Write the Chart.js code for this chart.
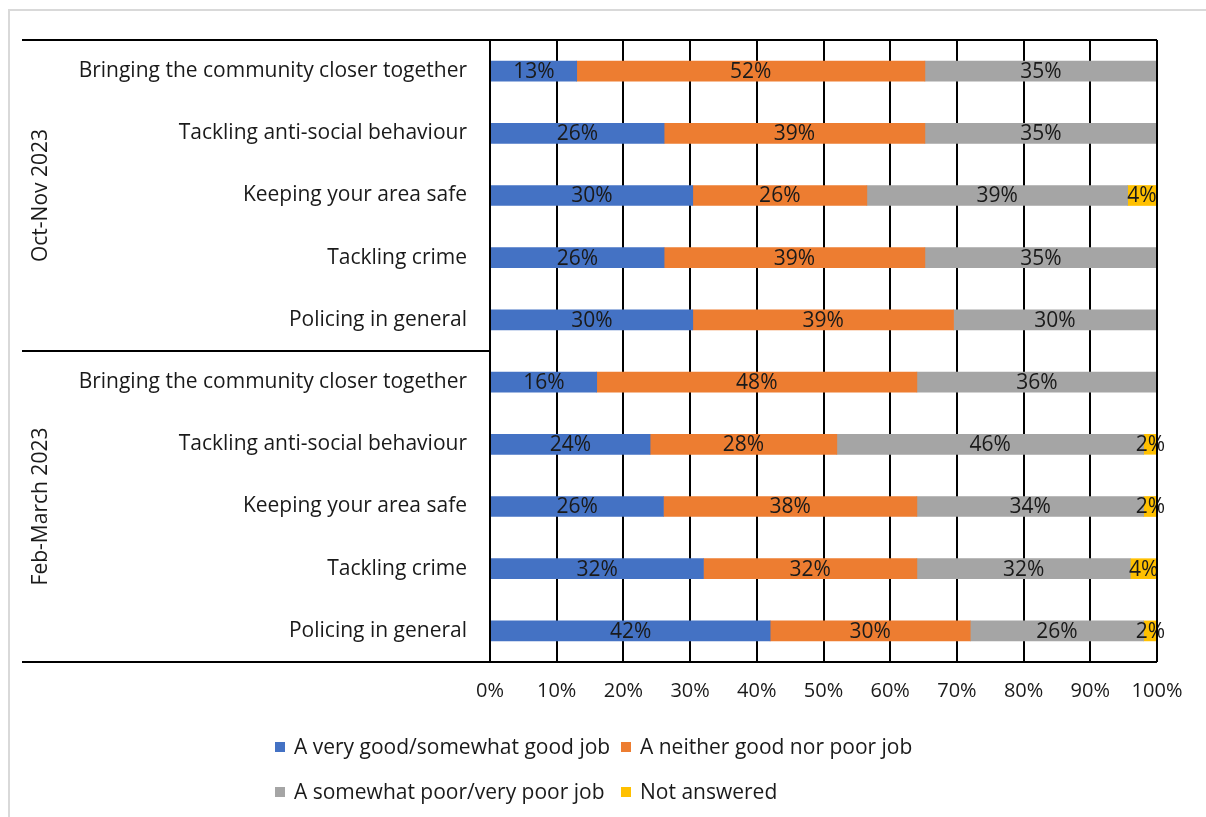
<!DOCTYPE html>
<html>
<head>
<meta charset="utf-8">
<script src="https://cdn.jsdelivr.net/npm/chart.js@4/dist/chart.umd.min.js"></script>
<style>
  html, body { margin: 0; padding: 0; background: #fff; }
  #wrap { width: 1206px; height: 817px; position: relative; }
</style>
</head>
<body>
<div id="wrap"><canvas id="chart"></canvas></div>
<script>
/* DATA */

const groups = ["Oct-Nov 2023", "Feb-March 2023"];
const categories = [
  "Bringing the community closer together",
  "Tackling anti-social behaviour",
  "Keeping your area safe",
  "Tackling crime",
  "Policing in general",
  "Bringing the community closer together",
  "Tackling anti-social behaviour",
  "Keeping your area safe",
  "Tackling crime",
  "Policing in general"
];
const seriesNames = [
  "A very good/somewhat good job",
  "A neither good nor poor job",
  "A somewhat poor/very poor job",
  "Not answered"
];
const goodJob    = [13.0, 26.1, 30.4, 26.1, 30.4, 16, 24, 26, 32, 42];
const neitherJob = [52.2, 39.1, 26.1, 39.1, 39.1, 48, 28, 38, 32, 30];
const poorJob    = [34.8, 34.8, 39.1, 34.8, 30.4, 36, 46, 34, 32, 26];
const notAnswered = [0, 0, 4.3, 0, 0, 0, 2, 2, 4, 2];
const xTicks = [0, 10, 20, 30, 40, 50, 60, 70, 80, 90, 100];

const colors = ["#4472C4", "#ED7D31", "#A5A5A5", "#FFC000"];
const FONT = "'Open Sans', sans-serif";
const TEXT = "#1a1a1a";

/* PLUGINS */

// white page + light frame
const framePlugin = {
  id: "frame",
  beforeDraw(chart) {
    const c = chart.ctx;
    c.save();
    c.fillStyle = "#fff";
    c.fillRect(0, 0, chart.width, chart.height);
    c.strokeStyle = "#d9d9d9";
    c.lineWidth = 2;
    c.beginPath();
    c.moveTo(9, chart.height);
    c.lineTo(9, 10);
    c.lineTo(chart.width, 10);
    c.stroke();
    c.restore();
  }
};

// values in the middle of each segment
const valueLabels = {
  id: "valueLabels",
  afterDatasetsDraw(chart) {
    const c = chart.ctx;
    c.save();
    c.font = `21px ${FONT}`;
    c.fillStyle = TEXT;
    c.textAlign = "center";
    c.textBaseline = "middle";
    chart.data.datasets.forEach((ds, i) => {
      chart.getDatasetMeta(i).data.forEach((bar, j) => {
        const v = ds.data[j];
        if (!v) return;
        c.fillText(Math.round(v) + "%", (bar.x + bar.base) / 2, bar.y + 1);
      });
    });
    c.restore();
  }
};

// multi-level category box, group titles and legend
const groupAxis = {
  id: "groupAxis",
  afterDraw(chart) {
    const c = chart.ctx;
    const area = chart.chartArea;
    const y = chart.scales.y;
    const left = 22;
    const mid = y.getPixelForValue(4.5);

    c.save();
    c.strokeStyle = "#000";
    c.lineWidth = 2;
    c.beginPath();
    c.moveTo(left, area.top); c.lineTo(area.right, area.top);
    c.moveTo(left, mid); c.lineTo(area.left, mid);
    c.moveTo(left, area.bottom); c.lineTo(area.right, area.bottom);
    c.moveTo(area.left, area.top); c.lineTo(area.left, area.bottom);
    c.moveTo(area.right, area.top); c.lineTo(area.right, area.bottom);
    c.stroke();

    c.font = `21px ${FONT}`;
    c.fillStyle = TEXT;
    c.textAlign = "center";
    c.textBaseline = "middle";
    const centers = [(area.top + mid) / 2, (mid + area.bottom) / 2];
    groups.forEach((g, i) => {
      c.save();
      c.translate(41, centers[i]);
      c.rotate(-Math.PI / 2);
      c.fillText(g, 0, 0);
      c.restore();
    });

    // legend in two columns
    const cols = [275, 621];
    const rows = [747, 792];
    c.textAlign = "left";
    chart.data.datasets.forEach((ds, i) => {
      const x = cols[i % 2];
      const yy = rows[Math.floor(i / 2)];
      c.fillStyle = ds.backgroundColor;
      c.fillRect(x, yy - 5, 10, 10);
      c.fillStyle = TEXT;
      c.fillText(ds.label, x + 19, yy + 1);
    });
    c.restore();
  }
};

/* CHART */

const datasets = [goodJob, neitherJob, poorJob, notAnswered].map((d, i) => ({
  label: seriesNames[i],
  data: d,
  backgroundColor: colors[i],
  borderWidth: 0,
  barThickness: 20
}));

new Chart(document.getElementById("chart"), {
  type: "bar",
  data: { labels: categories, datasets },
  plugins: [framePlugin, valueLabels, groupAxis],
  options: {
    indexAxis: "y",
    responsive: true,
    maintainAspectRatio: false,
    animation: false,
    layout: { padding: { left: 22, top: 40, right: 49, bottom: 105 } },
    plugins: { legend: { display: false }, tooltip: { enabled: false } },
    scales: {
      x: {
        stacked: true,
        min: 0,
        max: 100,
        afterBuildTicks: s => { s.ticks = xTicks.map(v => ({ value: v })); },
        afterFit: s => { s.height = 50; },
        grid: { color: "#000", lineWidth: 2, drawTicks: false },
        border: { display: false },
        ticks: {
          padding: 17,
          color: TEXT,
          font: { family: FONT, size: 20 },
          callback: v => v + "%"
        }
      },
      y: {
        stacked: true,
        afterFit: s => { s.width = 468; },
        grid: { display: false, drawTicks: false },
        border: { display: false },
        ticks: {
          padding: 23,
          color: TEXT,
          font: { family: FONT, size: 21 },
          autoSkip: false
        }
      }
    }
  }
});
</script>
</body>
</html>
